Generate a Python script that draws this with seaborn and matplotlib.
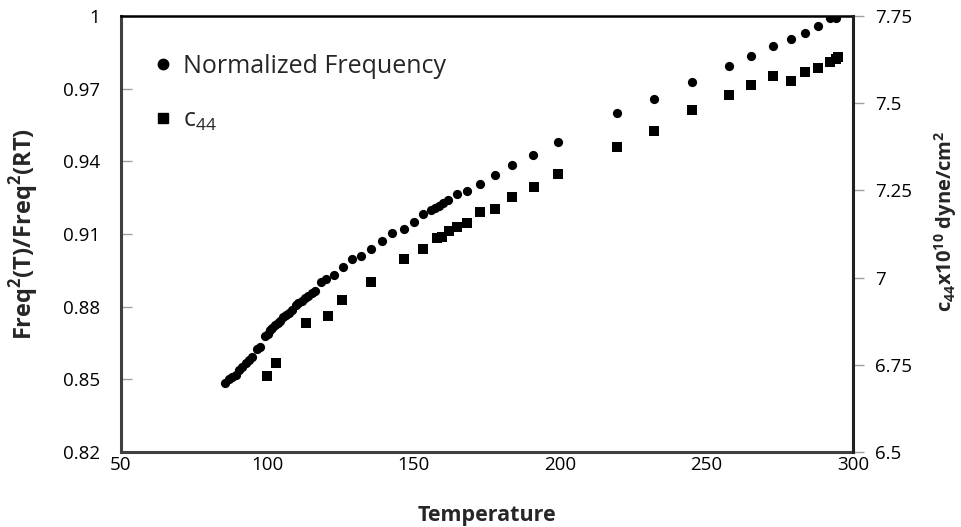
import matplotlib
matplotlib.use("Agg")
import matplotlib.pyplot as plt
import seaborn as sns
import pandas as pd
from matplotlib.lines import Line2D
from matplotlib.ticker import FuncFormatter

# Normalized squared frequency vs temperature
freq_temp = [85.5, 86.9, 88.0, 89.2, 90.3, 91.4, 92.6, 93.7, 94.8, 96.3,
             97.5, 99.2, 100.1, 100.9, 101.7, 102.6, 103.5, 104.3, 105.4, 106.3,
             107.4, 108.5, 109.7, 110.6, 111.7, 112.8, 114.0, 115.1, 116.3, 118.4,
             120.0, 122.6, 125.7, 128.8, 131.9, 135.3, 139.0, 142.5, 146.7, 150.2,
             153.2, 155.9, 157.2, 158.7, 159.9, 161.8, 164.7, 168.1, 172.6, 177.7,
             183.6, 190.8, 199.2, 219.5, 232.0, 245.0, 257.7, 265.3, 272.7, 278.9,
             283.6, 287.9, 292.1, 294.2]
freq_norm = [0.8486, 0.8500, 0.8511, 0.8518, 0.8539, 0.8552, 0.8566, 0.8580, 0.8593, 0.8624,
             0.8632, 0.8679, 0.8687, 0.8704, 0.8711, 0.8724, 0.8731, 0.8742, 0.8756, 0.8766,
             0.8773, 0.8786, 0.8807, 0.8816, 0.8825, 0.8835, 0.8844, 0.8855, 0.8866, 0.8901,
             0.8916, 0.8932, 0.8963, 0.8996, 0.9010, 0.9039, 0.9071, 0.9103, 0.9120, 0.9150,
             0.9181, 0.9199, 0.9206, 0.9217, 0.9227, 0.9240, 0.9264, 0.9278, 0.9305, 0.9345,
             0.9385, 0.9426, 0.9480, 0.9601, 0.9656, 0.9726, 0.9795, 0.9836, 0.9877, 0.9904,
             0.9931, 0.9960, 0.9990, 0.9993]

# Elastic constant c44 (x10^10 dyne/cm^2) vs temperature
c44_temp = [100.0, 103.0, 113.2, 120.8, 125.5, 135.3, 146.7, 153.2, 157.9, 159.5,
            161.9, 164.8, 168.3, 172.7, 177.8, 183.7, 191.0, 199.1, 219.5, 232.0,
            245.0, 257.7, 265.3, 272.7, 278.9, 283.6, 287.9, 292.1, 294.2, 295.0]
c44_vals = [6.718, 6.756, 6.871, 6.891, 6.935, 6.988, 7.053, 7.083, 7.114, 7.117,
            7.133, 7.144, 7.157, 7.187, 7.198, 7.230, 7.259, 7.298, 7.375, 7.421,
            7.481, 7.524, 7.552, 7.578, 7.565, 7.589, 7.602, 7.617, 7.627, 7.632]

x_ticks = [50, 100, 150, 200, 250, 300]
left_ticks = [0.82, 0.85, 0.88, 0.91, 0.94, 0.97, 1.0]
right_ticks = [6.5, 6.75, 7.0, 7.25, 7.5, 7.75]

df_freq = pd.DataFrame({"T": freq_temp, "F": freq_norm})
df_c44 = pd.DataFrame({"T": c44_temp, "C": c44_vals})

sns.set_theme(style="white")
plt.rcParams["font.family"] = ["Open Sans", "DejaVu Sans"]
plt.rcParams["mathtext.fontset"] = "custom"
plt.rcParams["mathtext.rm"] = "Open Sans"
plt.rcParams["mathtext.bf"] = "Open Sans:bold"

fig = plt.figure(figsize=(9.61, 5.27), dpi=100)
ax = fig.add_axes([0.1259, 0.1423, 0.7617, 0.8273])
ax2 = ax.twinx()

sns.scatterplot(data=df_freq, x="T", y="F", ax=ax, marker="o", s=44,
                color="black", edgecolor="black", linewidth=0, legend=False)
sns.scatterplot(data=df_c44, x="T", y="C", ax=ax2, marker="s", s=42,
                color="black", edgecolor="black", linewidth=0, legend=False)

ax.set_xlim(50, 300)
ax.set_ylim(0.82, 1.0)
ax2.set_ylim(6.5, 7.75)
ax.set_xticks(x_ticks)
ax.set_yticks(left_ticks)
ax2.set_yticks(right_ticks)

fmt = FuncFormatter(lambda v, p: f"{v:g}")
ax.yaxis.set_major_formatter(FuncFormatter(lambda v, p: f"{v:.2f}".rstrip("0").rstrip(".")))
ax2.yaxis.set_major_formatter(fmt)
ax.xaxis.set_major_formatter(fmt)

tick_fs = 13.5
ax.tick_params(axis="both", direction="in", length=8, width=1, color="#a0a0a0",
               labelsize=tick_fs, labelcolor="black")
ax.tick_params(axis="y", pad=15)
ax.tick_params(axis="x", pad=3)
ax2.tick_params(axis="y", direction="out", length=8, width=1, color="#a0a0a0",
                labelsize=tick_fs, labelcolor="black", pad=8)

for s in ("left", "bottom"):
    ax.spines[s].set_color("#404040")
    ax.spines[s].set_linewidth(2.2)
ax.spines["top"].set_color("black")
ax.spines["top"].set_linewidth(1.8)
ax.spines["right"].set_visible(False)
ax2.spines["right"].set_color("#202020")
ax2.spines["right"].set_linewidth(2.2)
for s in ("left", "bottom", "top"):
    ax2.spines[s].set_visible(False)

ax.set_xlabel("Temperature", fontsize=15.5, fontweight="bold", labelpad=22)
ax.set_ylabel(r"Freq$^{\mathbf{2}}$(T)/Freq$^{\mathbf{2}}$(RT)", fontsize=17,
              fontweight="bold", labelpad=16)
ax2.set_ylabel(r"c$_{\mathbf{44}}$x10$^{\mathbf{10}}$ dyne/cm$^{\mathbf{2}}$", fontsize=14.5,
               fontweight="bold", rotation=90)
ax2.yaxis.set_label_position("right")
ax2.yaxis.set_label_coords(1.108, 0.53)

handles = [
    Line2D([], [], marker="o", linestyle="none", color="black", markersize=7.5),
    Line2D([], [], marker="s", linestyle="none", color="black", markersize=7.5),
]
ax.legend(handles, ["Normalized Frequency", r"c$_{44}$"], loc="upper left",
          bbox_to_anchor=(0.009, 0.965), frameon=False, fontsize=18,
          handletextpad=0.3, handlelength=1.0, labelspacing=1.15)

fig.savefig("out.png", dpi=100)
